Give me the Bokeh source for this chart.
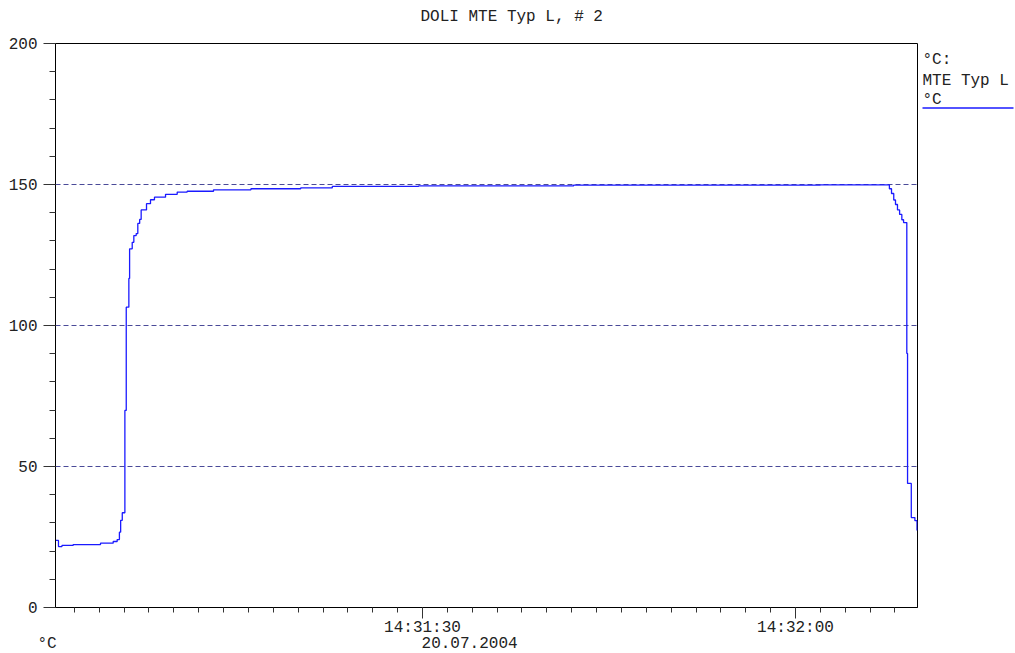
from bokeh.plotting import figure
from bokeh.layouts import row
from bokeh.models import Range1d, FixedTicker, Title
from bokeh.core.properties import value
from bokeh.embed import file_html
from bokeh.resources import INLINE

# Logger samples: seconds after 14:31:00 (20.07.2004) and temperature in °C
time_s = [0.48, 0.72, 1.00, 1.90, 4.10, 5.12, 5.44, 5.62, 5.72, 5.85,
          6.06, 6.17, 6.38, 6.44, 6.65, 6.78, 6.97, 7.10, 7.25, 7.37,
          7.80, 8.12, 8.44, 9.33, 10.27, 11.07, 13.19, 16.20, 20.20, 22.74,
          29.68, 42.15, 62.00, 67.55, 67.72, 67.90, 68.04, 68.20, 68.37, 68.55,
          68.69, 68.95, 69.01, 69.31, 69.60, 69.77]
temp_c = [23.8, 21.6, 22.0, 22.3, 22.8, 23.4, 24.1, 26.7, 30.9, 33.6,
          69.9, 106.5, 116.7, 127.2, 129.5, 131.9, 132.6, 136.2, 137.6, 141.0,
          143.2, 144.6, 145.5, 146.5, 147.3, 147.6, 148.1, 148.5, 148.8, 149.3,
          149.5, 149.8, 149.9, 148.5, 146.8, 144.5, 142.9, 141.0, 139.4, 137.5,
          136.5, 90.1, 44.0, 31.9, 30.8, 27.3]

y_major = [0, 50, 100, 150, 200]
y_minor = list(range(0, 201, 10))
grid_levels = [50, 100, 150]
x_major = [30, 60]
x_major_labels = {30: "14:31:30", 60: "14:32:00"}
x_minor = list(range(2, 70, 2))

title_text = "DOLI MTE Typ L, # 2"
unit_text = "°C"
date_text = "20.07.2004"
legend_lines = ["°C:", "MTE Typ L", "°C"]

FONT = "Liberation Mono"
TEXT_COLOR = "#222222"
LINE_COLOR = "#1a1aff"
BORDER_TOP, BORDER_BOTTOM = 43, 46
HEIGHT = 653

p = figure(width=918, height=HEIGHT, output_backend="svg", toolbar_location=None,
           x_range=Range1d(0.48, 69.81), y_range=Range1d(0, 200),
           min_border_left=55, min_border_right=1,
           min_border_top=BORDER_TOP, min_border_bottom=BORDER_BOTTOM)
p.background_fill_color = "white"
p.border_fill_color = "white"
p.outline_line_color = "black"
p.outline_line_width = 1
p.title.text = ""

# title above the frame: a thin spacer next to the frame, the heading above it
p.add_layout(Title(text=" ", text_font_size="2px", standoff=5), "above")
p.add_layout(Title(text=title_text, align="left", offset=365, standoff=14,
                   vertical_align="top", text_font=FONT, text_font_size="16px",
                   text_font_style="normal", text_color=TEXT_COLOR), "above")

# y axis: labelled every 50 °C, minor ticks every 10 °C
p.yaxis.ticker = FixedTicker(ticks=y_major, minor_ticks=y_minor)
p.yaxis.major_tick_out = 12
p.yaxis.major_tick_in = 0
p.yaxis.minor_tick_out = 6
p.yaxis.minor_tick_in = 0
p.yaxis.major_label_standoff = 6

# x axis: time of day, minor ticks every 2 s
p.xaxis.ticker = FixedTicker(ticks=x_major, minor_ticks=x_minor)
p.xaxis.major_label_overrides = x_major_labels
p.xaxis.major_tick_out = 11
p.xaxis.major_tick_in = 0
p.xaxis.minor_tick_out = 5
p.xaxis.minor_tick_in = 0
p.xaxis.major_label_standoff = 0

for ax in (p.xaxis, p.yaxis):
    ax.axis_line_color = "black"
    ax.major_tick_line_color = "#333333"
    ax.minor_tick_line_color = "#333333"
    ax.major_label_text_font = FONT
    ax.major_label_text_font_size = "16px"
    ax.major_label_text_color = TEXT_COLOR

p.xgrid.visible = False
p.ygrid.ticker = FixedTicker(ticks=grid_levels)
p.ygrid.grid_line_color = "#4a4a98"
p.ygrid.grid_line_dash = "5 3"
p.ygrid.grid_line_width = 1

p.step(time_s, temp_c, mode="after", line_color=LINE_COLOR, line_width=1.3)

# unit and date line under the time axis
p.add_layout(Title(text=unit_text + "\u00a0" * 38 + date_text, align="left",
                   offset=-18, standoff=-10, vertical_align="top",
                   text_font=FONT, text_font_size="16px",
                   text_font_style="normal", text_color=TEXT_COLOR), "below")

# channel legend panel to the right of the chart; its ranges are page pixels
# (y downwards) over the same vertical extent as the chart frame
leg = figure(width=97, height=HEIGHT, output_backend="svg", toolbar_location=None,
             x_range=Range1d(0, 97),
             y_range=Range1d(HEIGHT - BORDER_BOTTOM, BORDER_TOP),
             x_axis_type=None, y_axis_type=None,
             min_border_left=0, min_border_right=0,
             min_border_top=BORDER_TOP, min_border_bottom=BORDER_BOTTOM)
leg.grid.visible = False
leg.outline_line_color = None
leg.background_fill_color = "white"
leg.border_fill_color = "white"
leg.text(x=[4, 4, 4], y=[59, 80, 99], text=legend_lines,
         text_font=value(FONT), text_font_size=value("16px"),
         text_color=TEXT_COLOR, text_align="left", text_baseline="middle")
leg.line(x=[4, 95], y=[107.5, 107.5], line_color=LINE_COLOR, line_width=1.3)

layout = row(p, leg, spacing=0)
open("out.html", "w").write(file_html(layout, INLINE))
